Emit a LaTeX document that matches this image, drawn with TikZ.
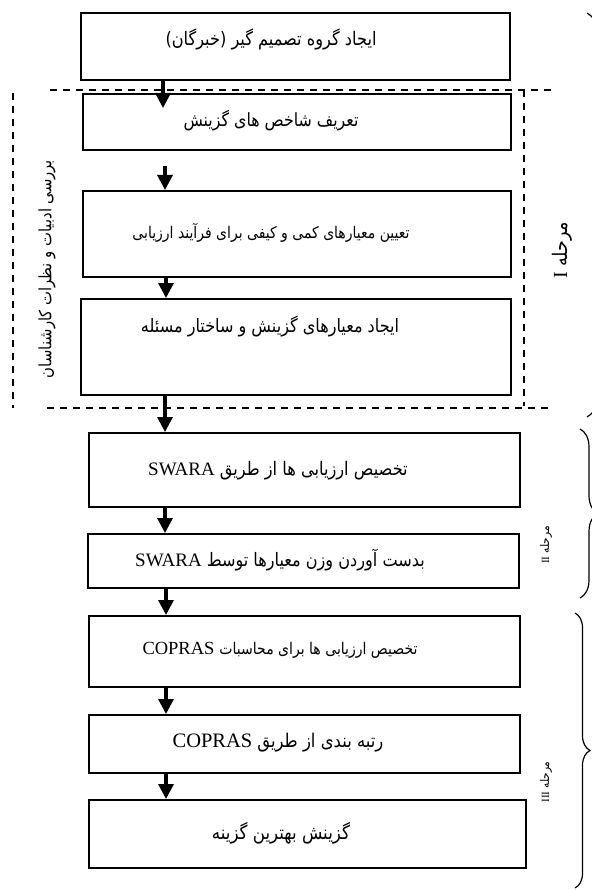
\documentclass[tikz,border=0pt]{standalone}
\usepackage{fontspec}
\setmainfont{Liberation Serif}
\newfontfamily\arabicfont[Script=Arabic]{DejaVu Sans}
\TeXXeTstate=1
\usetikzlibrary{arrows.meta,decorations.pathreplacing}
\newcommand\fa[2]{\scalebox{1}[1.15]{\resizebox{#1pt}{!}{\arabicfont #2}}}
\newcommand\latw[2]{{\rmfamily\fontsize{#1}{#1}\selectfont #2}}
\tikzset{
  box/.style={draw, line width=1.6pt, anchor=north west, inner sep=0pt},
  arr/.style={line width=3.2pt, -{Triangle[width=15pt,length=15pt]}},
  dsh/.style={line width=1.3pt, dash pattern=on 7pt off 6pt},
  brc/.style={decorate, decoration={brace, amplitude=#1}, line width=1.2pt},
  txt/.style={inner sep=0pt},
}
\begin{document}
\begin{tikzpicture}[x=1pt,y=-1pt]
\useasboundingbox (0,0) rectangle (591,890);
% boxes
\node[box, minimum width=429pt, minimum height=67pt] (b1) at (80,12) {};
\node[box, minimum width=428pt, minimum height=56pt] (b2) at (82,93) {};
\node[box, minimum width=428pt, minimum height=86pt] (b3) at (82,190) {};
\node[box, minimum width=430pt, minimum height=96pt] (b4) at (80,298) {};
\node[box, minimum width=431pt, minimum height=74pt] (b5) at (88,432) {};
\node[box, minimum width=431pt, minimum height=54pt] (b6) at (87,533) {};
\node[box, minimum width=431pt, minimum height=71pt] (b7) at (88,615) {};
\node[box, minimum width=431pt, minimum height=58pt] (b8) at (88,714) {};
\node[box, minimum width=437pt, minimum height=68pt] (b9) at (88,799) {};
% texts
\node[txt] (t1) at (271,39) {\fa{211}{\beginR ایجاد گروه تصمیم گیر (خبرگان)\endR}};
\node[txt] (t2) at (271,121) {\fa{175}{\beginR تعریف شاخص های گزینش\endR}};
\node[txt] (t3) at (271,233) {\fa{277}{\beginR تعیین معیارهای کمی و کیفی برای فرآیند ارزیابی\endR}};
\node[txt] (t4) at (270,326) {\fa{258}{\beginR ایجاد معیارهای گزینش و ساختار مسئله\endR}};
\node[txt] (t5) at (278,471) {\latw{19}{SWARA}\hspace{5pt}\fa{188}{\beginR تخصیص ارزیابی ها از طریق\endR}};
\node[txt] (t6) at (280,560) {\latw{19}{SWARA}\hspace{5pt}\fa{218}{\beginR بدست آوردن وزن معیارها توسط\endR}};
\node[txt] (t7) at (280,650) {\latw{18.5}{COPRAS}\hspace{5pt}\fa{198}{\beginR تخصیص ارزیابی ها  برای محاسبات\endR}};
\node[txt] (t8) at (278,743) {\latw{20.5}{COPRAS}\hspace{5pt}\fa{126}{\beginR رتبه بندی از طریق\endR}};
\node[txt] (t9) at (281,833) {\fa{138}{\beginR گزینش بهترین گزینه\endR}};
% side and phase labels
\node[txt, rotate=90] (s) at (47,269) {\fa{218}{\beginR بررسی ادبیات و نظرات کارشناسان\endR}};
\node[txt, rotate=90] (p1) at (562,250) {\latw{20}{I}\hspace{5pt}\fa{45}{\beginR مرحله\endR}};
\node[txt, rotate=90] (p2) at (546,545) {\latw{11}{II}\hspace{3pt}\fa{27}{\beginR مرحله\endR}};
\node[txt, rotate=90] (p3) at (546,782) {\latw{11}{III}\hspace{3pt}\fa{27}{\beginR مرحله\endR}};
% dashed frame
\draw[dsh] (50,90) -- (553,90);
\draw[dsh] (47,408) -- (553,408);
\draw[dsh] (13,93) -- (13,408);
\draw[dsh] (524,90) -- (524,406);
% arrows
\coordinate (a1e) at (163,108);
\coordinate (a2s) at (165,166);
\draw[arr] (163,0 |- b1.south) -- (a1e);
\draw[arr] (a2s) -- (165,0 |- b3.north);
\draw[arr] (166,0 |- b3.south) -- (166,0 |- b4.north);
\draw[arr] (165,0 |- b4.south) -- (165,0 |- b5.north);
\draw[arr] (165,0 |- b5.south) -- (165,0 |- b6.north);
\draw[arr] (166,0 |- b6.south) -- (166,0 |- b7.north);
\draw[arr] (166,0 |- b7.south) -- (166,0 |- b8.north);
\draw[arr] (166,0 |- b8.south) -- (166,0 |- b9.north);
% braces
\draw[brc=20] (587,13) -- (587,417);
\draw[brc=18] (580,429) -- (580,598);
\draw[brc=15] (575,613) -- (575,888);
\end{tikzpicture}
\end{document}
